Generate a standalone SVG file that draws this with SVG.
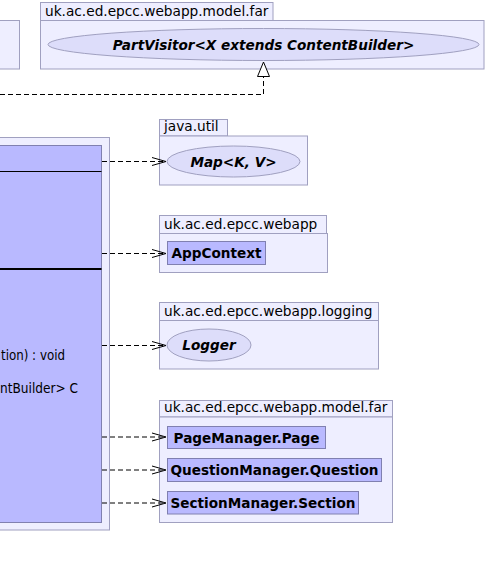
<svg xmlns="http://www.w3.org/2000/svg" width="489" height="568" viewBox="0 0 489 568">
<defs>
<style>
.pkg{fill:#EEEEFF;stroke:#A0A0C0;stroke-width:1}
.cls{fill:#B9B9FF;stroke:#8080B0;stroke-width:1}
.ell{fill:#DDDDFA;stroke:#A0A0C0;stroke-width:1}
.pt{font-family:"DejaVu Sans",sans-serif;font-size:13.7px;fill:#000}
.cn{font-family:"DejaVu Sans",sans-serif;font-size:13.6px;font-weight:bold;fill:#000;text-anchor:middle}
.en{font-family:"DejaVu Sans",sans-serif;font-size:13.6px;font-weight:bold;font-style:italic;fill:#000;text-anchor:middle}
.mt{font-family:"DejaVu Sans",sans-serif;font-size:13.6px;fill:#000}
.dep{fill:none;stroke:#000;stroke-width:1;stroke-dasharray:5,3}
</style>
<marker id="open" markerWidth="16" markerHeight="12" refX="14" refY="5" orient="auto" markerUnits="userSpaceOnUse">
<path d="M0,1 L14,5 L0,9" fill="none" stroke="#000" stroke-width="1"/>
</marker>
</defs>

<g id="pkg-left-top">
<rect class="pkg" x="-10" y="20.5" width="29.5" height="48.5"/>
</g>

<g id="pkg-model-far-top">
<rect class="pkg" x="40.5" y="2.5" width="232.5" height="18"/>
<rect class="pkg" x="40.5" y="20.5" width="443.5" height="48.5"/>
<text class="pt" x="45" y="16">uk.ac.ed.epcc.webapp.model.far</text>
<g id="PartVisitor">
<ellipse class="ell" cx="263.5" cy="44.5" rx="215.5" ry="16"/>
<text class="en" x="263.5" y="49.5">PartVisitor&lt;X extends ContentBuilder&gt;</text>
</g>
</g>

<g id="pkg-left-main">
<rect class="pkg" x="-10" y="137.5" width="119.5" height="392.5"/>
<g id="main-class">
<rect class="cls" x="-10" y="145.5" width="111.5" height="377"/>
<line x1="-10" y1="171.5" x2="101.5" y2="171.5" stroke="#000" stroke-width="1"/>
<line x1="-10" y1="269" x2="101.5" y2="269" stroke="#000" stroke-width="2"/>
<text class="mt" x="1" y="360" textLength="64" lengthAdjust="spacingAndGlyphs">tion) : void</text>
<text class="mt" x="0" y="393" textLength="78" lengthAdjust="spacingAndGlyphs">ntBuilder&gt; C</text>
</g>
</g>

<g id="pkg-java-util">
<rect class="pkg" x="159.5" y="119.5" width="68" height="16.5"/>
<rect class="pkg" x="159.5" y="136" width="148" height="49"/>
<text class="pt" x="164" y="131">java.util</text>
<g id="Map">
<ellipse class="ell" cx="233.5" cy="161.5" rx="66.5" ry="15.5"/>
<text class="en" x="233.5" y="166.5">Map&lt;K, V&gt;</text>
</g>
</g>

<g id="pkg-webapp">
<rect class="pkg" x="159.5" y="215.5" width="167" height="18"/>
<rect class="pkg" x="159.5" y="233.5" width="168" height="39"/>
<text class="pt" x="164" y="229">uk.ac.ed.epcc.webapp</text>
<g id="AppContext">
<rect class="cls" x="167.5" y="241.5" width="98" height="23"/>
<text class="cn" x="216.5" y="258">AppContext</text>
</g>
</g>

<g id="pkg-logging">
<rect class="pkg" x="159.5" y="302.5" width="219" height="18"/>
<rect class="pkg" x="159.5" y="320.5" width="219" height="48.5"/>
<text class="pt" x="164" y="316">uk.ac.ed.epcc.webapp.logging</text>
<g id="Logger">
<ellipse class="ell" cx="209" cy="345" rx="42" ry="16"/>
<text class="en" x="209" y="350">Logger</text>
</g>
</g>

<g id="pkg-model-far">
<rect class="pkg" x="159.5" y="400.5" width="233" height="16.5"/>
<rect class="pkg" x="159.5" y="417" width="233" height="105.5"/>
<text class="pt" x="164" y="412">uk.ac.ed.epcc.webapp.model.far</text>
<g id="PageManager.Page">
<rect class="cls" x="167.5" y="426.5" width="158" height="22"/>
<text class="cn" x="246.5" y="442.5">PageManager.Page</text>
</g>
<g id="QuestionManager.Question">
<rect class="cls" x="167.5" y="458.5" width="214" height="23"/>
<text class="cn" x="274.5" y="475">QuestionManager.Question</text>
</g>
<g id="SectionManager.Section">
<rect class="cls" x="167.5" y="491.5" width="191" height="22.5"/>
<text class="cn" x="263" y="507.5">SectionManager.Section</text>
</g>
</g>

<g id="connectors">
<path class="dep" d="M0,94.5 L263.5,94.5 L263.5,76.5"/>
<polygon points="263.5,62 257.5,76.5 269.5,76.5" fill="#fff" stroke="#000" stroke-width="1"/>
<line class="dep" x1="102" y1="161.5" x2="166" y2="161.5" marker-end="url(#open)"/>
<line class="dep" x1="102" y1="253.5" x2="166" y2="253.5" marker-end="url(#open)"/>
<line class="dep" x1="102" y1="345.5" x2="166" y2="345.5" marker-end="url(#open)"/>
<line class="dep" x1="102" y1="437" x2="166" y2="437" marker-end="url(#open)"/>
<line class="dep" x1="102" y1="470" x2="166" y2="470" marker-end="url(#open)"/>
<line class="dep" x1="102" y1="503" x2="166" y2="503" marker-end="url(#open)"/>
</g>
</svg>
